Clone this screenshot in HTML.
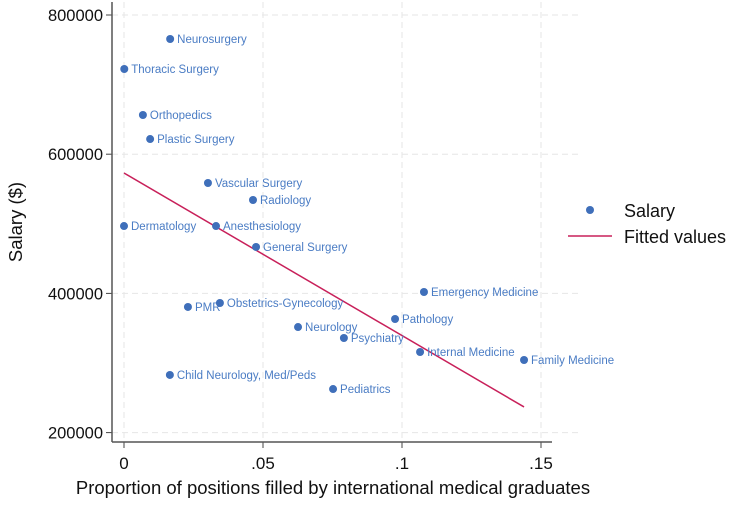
<!DOCTYPE html>
<html><head><meta charset="utf-8"><style>
body{margin:0;background:#fff;width:731px;height:501px;overflow:hidden}
svg{font-family:"Liberation Sans",Arial,sans-serif}
</style></head><body>
<svg id="c" width="731" height="501"></svg>
<script>
const names=["Neurosurgery","Thoracic Surgery","Orthopedics","Plastic Surgery","Vascular Surgery","Radiology","Dermatology","Anesthesiology","General Surgery","Emergency Medicine","PMR","Obstetrics-Gynecology","Pathology","Neurology","Psychiatry","Internal Medicine","Family Medicine","Child Neurology, Med/Peds","Pediatrics"];
const imgShare=[0.0166,0.0001,0.0068,0.0094,0.0302,0.0464,0,0.0331,0.0475,0.1079,0.0230,0.0345,0.0975,0.0626,0.0791,0.1065,0.1439,0.0165,0.0752];
const salary=[765500,722400,656300,621800,558600,534200,496800,496800,466700,402000,380500,386200,363200,351700,335900,315800,304300,282800,262600];
const xTicks=[0,0.05,0.1,0.15];
const xTickLabels=["0",".05",".1",".15"];
const yTicks=[200000,400000,600000,800000];
const fitIntercept=573000;
const fitSlope=-2336000;

const NS="http://www.w3.org/2000/svg";
const svg=document.getElementById('c');
const X=v=>124+v*2780;
const Y=v=>15+(800000-v)*139.2/200000;
function mk(t,a,p){const e=document.createElementNS(NS,t);for(const k in a)e.setAttribute(k,a[k]);(p||svg).appendChild(e);return e;}

xTicks.forEach((t,i)=>{
  const g=mk('line',{x1:X(t),x2:X(t),y1:2,y2:442,stroke:'#e6e6e6','stroke-dasharray':'6,4'});
  
  
  const tk=mk('line',{x1:X(t),x2:X(t),y1:442,y2:448,stroke:'#444'});
  
  
  const l=mk('text',{x:X(t),y:469,'text-anchor':'middle','font-size':17,fill:'#111'});l.textContent=xTickLabels[i];
  
  
});
yTicks.forEach(t=>{
  const g=mk('line',{x1:112,x2:582,y1:Y(t),y2:Y(t),stroke:'#e6e6e6','stroke-dasharray':'6,4'});
  
  
  const tk=mk('line',{x1:106,x2:112,y1:Y(t),y2:Y(t),stroke:'#444'});
  
  
  const l=mk('text',{x:103,y:Y(t)+6,'text-anchor':'end','font-size':16.5,fill:'#111'});l.textContent=t;
  
  
});
const ya=mk('line',{x1:112,x2:112,y1:2,y2:442,stroke:'#555','stroke-width':1.5});


const xa=mk('line',{x1:112,x2:552,y1:442,y2:442,stroke:'#555','stroke-width':1.5});



const xmin=Math.min(...imgShare),xmax=Math.max(...imgShare);
const fl=mk('line',{x1:X(xmin),y1:Y(fitIntercept+fitSlope*xmin),x2:X(xmax),y2:Y(fitIntercept+fitSlope*xmax),stroke:'#c8205a','stroke-width':1.5});



names.forEach((n,i)=>{
  const c=mk('circle',{cx:X(imgShare[i]),cy:Y(salary[i]),r:4,fill:'#3f6fba'});
  
  
  const t=mk('text',{x:X(imgShare[i])+7,y:Y(salary[i])+4,'font-size':11.5,fill:'#4a7cc4'});t.textContent=n;
  
  
});

const xt=mk('text',{x:333,y:494,'text-anchor':'middle','font-size':18.5,fill:'#111'});xt.textContent='Proportion of positions filled by international medical graduates';


const yt=mk('text',{x:0,y:0,'text-anchor':'middle','font-size':18.5,fill:'#111',transform:'translate(22,222) rotate(-90)'});yt.textContent='Salary ($)';



const lg=mk('g',{});


const ld=mk('circle',{cx:590,cy:210,r:4,fill:'#3f6fba'},lg);


const lt1=mk('text',{x:624,y:217,'font-size':18,fill:'#111'},lg);lt1.textContent='Salary';


const ll=mk('line',{x1:568,x2:612,y1:236,y2:236,stroke:'#c8205a','stroke-width':1.5},lg);


const lt2=mk('text',{x:624,y:243,'font-size':18,fill:'#111'},lg);lt2.textContent='Fitted values';


</script>
</body></html>
